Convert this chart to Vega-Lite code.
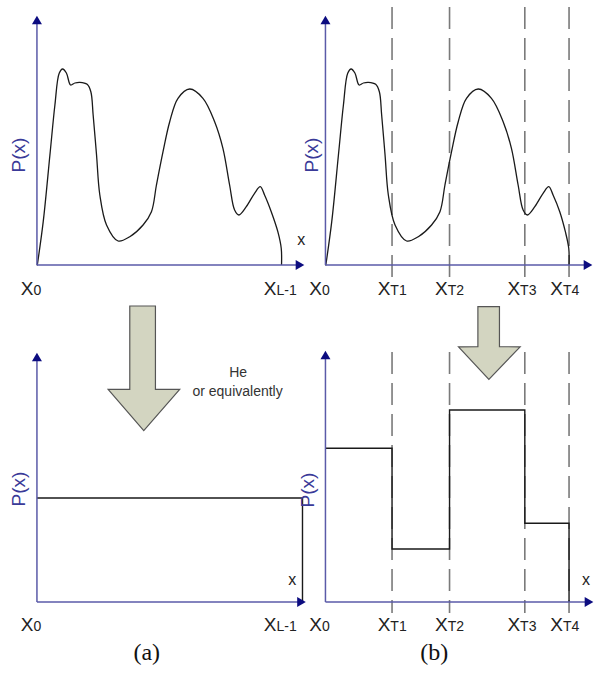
{
  "$schema": "https://vega.github.io/schema/vega-lite/v6.json",
  "width": 594,
  "height": 681,
  "padding": 0,
  "autosize": {"type": "fit", "contains": "padding"},
  "background": "white",
  "config": {"view": {"stroke": null}},
  "datasets": {
    "curve": [
      {"panel": "a", "i": 0, "x": 37.3, "y": 265.5},
      {"panel": "a", "i": 1, "x": 43.3, "y": 221.7},
      {"panel": "a", "i": 2, "x": 50, "y": 155},
      {"panel": "a", "i": 3, "x": 55, "y": 105},
      {"panel": "a", "i": 4, "x": 59.3, "y": 73.3},
      {"panel": "a", "i": 5, "x": 62.7, "y": 69},
      {"panel": "a", "i": 6, "x": 66.5, "y": 73},
      {"panel": "a", "i": 7, "x": 70.7, "y": 85},
      {"panel": "a", "i": 8, "x": 75, "y": 83},
      {"panel": "a", "i": 9, "x": 80, "y": 82.3},
      {"panel": "a", "i": 10, "x": 87.3, "y": 84.3},
      {"panel": "a", "i": 11, "x": 91, "y": 91.7},
      {"panel": "a", "i": 12, "x": 93.3, "y": 115},
      {"panel": "a", "i": 13, "x": 96.7, "y": 155},
      {"panel": "a", "i": 14, "x": 100, "y": 195},
      {"panel": "a", "i": 15, "x": 106.7, "y": 225},
      {"panel": "a", "i": 16, "x": 118.3, "y": 241},
      {"panel": "a", "i": 17, "x": 130, "y": 236.7},
      {"panel": "a", "i": 18, "x": 143.3, "y": 225},
      {"panel": "a", "i": 19, "x": 151.7, "y": 211.7},
      {"panel": "a", "i": 20, "x": 156.7, "y": 185},
      {"panel": "a", "i": 21, "x": 163.3, "y": 151.7},
      {"panel": "a", "i": 22, "x": 170, "y": 121.7},
      {"panel": "a", "i": 23, "x": 178.3, "y": 98.3},
      {"panel": "a", "i": 24, "x": 190, "y": 89},
      {"panel": "a", "i": 25, "x": 203.3, "y": 98.3},
      {"panel": "a", "i": 26, "x": 215, "y": 121.7},
      {"panel": "a", "i": 27, "x": 223.3, "y": 148.3},
      {"panel": "a", "i": 28, "x": 230, "y": 185},
      {"panel": "a", "i": 29, "x": 235, "y": 210},
      {"panel": "a", "i": 30, "x": 239.3, "y": 215},
      {"panel": "a", "i": 31, "x": 246.7, "y": 206.7},
      {"panel": "a", "i": 32, "x": 255, "y": 193.3},
      {"panel": "a", "i": 33, "x": 260.7, "y": 186.7},
      {"panel": "a", "i": 34, "x": 265, "y": 195},
      {"panel": "a", "i": 35, "x": 271.7, "y": 211.7},
      {"panel": "a", "i": 36, "x": 278.3, "y": 231.7},
      {"panel": "a", "i": 37, "x": 281.7, "y": 248.3},
      {"panel": "a", "i": 38, "x": 282, "y": 265},
      {"panel": "b", "i": 0, "x": 326.3, "y": 265.5},
      {"panel": "b", "i": 1, "x": 332.3, "y": 221.7},
      {"panel": "b", "i": 2, "x": 339, "y": 155},
      {"panel": "b", "i": 3, "x": 344, "y": 105},
      {"panel": "b", "i": 4, "x": 348.3, "y": 73.3},
      {"panel": "b", "i": 5, "x": 351.7, "y": 69},
      {"panel": "b", "i": 6, "x": 355.5, "y": 73},
      {"panel": "b", "i": 7, "x": 359.7, "y": 85},
      {"panel": "b", "i": 8, "x": 364, "y": 83},
      {"panel": "b", "i": 9, "x": 369, "y": 82.3},
      {"panel": "b", "i": 10, "x": 376.3, "y": 84.3},
      {"panel": "b", "i": 11, "x": 380, "y": 91.7},
      {"panel": "b", "i": 12, "x": 382.3, "y": 115},
      {"panel": "b", "i": 13, "x": 385.7, "y": 155},
      {"panel": "b", "i": 14, "x": 389, "y": 195},
      {"panel": "b", "i": 15, "x": 395.7, "y": 225},
      {"panel": "b", "i": 16, "x": 407.3, "y": 241},
      {"panel": "b", "i": 17, "x": 419, "y": 236.7},
      {"panel": "b", "i": 18, "x": 432.3, "y": 225},
      {"panel": "b", "i": 19, "x": 440.7, "y": 211.7},
      {"panel": "b", "i": 20, "x": 445.7, "y": 185},
      {"panel": "b", "i": 21, "x": 452.3, "y": 151.7},
      {"panel": "b", "i": 22, "x": 459, "y": 121.7},
      {"panel": "b", "i": 23, "x": 467.3, "y": 98.3},
      {"panel": "b", "i": 24, "x": 479, "y": 89},
      {"panel": "b", "i": 25, "x": 492.3, "y": 98.3},
      {"panel": "b", "i": 26, "x": 504, "y": 121.7},
      {"panel": "b", "i": 27, "x": 512.3, "y": 148.3},
      {"panel": "b", "i": 28, "x": 519, "y": 185},
      {"panel": "b", "i": 29, "x": 524, "y": 210},
      {"panel": "b", "i": 30, "x": 528.3, "y": 215},
      {"panel": "b", "i": 31, "x": 535.7, "y": 206.7},
      {"panel": "b", "i": 32, "x": 544, "y": 193.3},
      {"panel": "b", "i": 33, "x": 549.7, "y": 186.7},
      {"panel": "b", "i": 34, "x": 554, "y": 195},
      {"panel": "b", "i": 35, "x": 560.7, "y": 211.7},
      {"panel": "b", "i": 36, "x": 566.3, "y": 231.7},
      {"panel": "b", "i": 37, "x": 569.7, "y": 248.3},
      {"panel": "b", "i": 38, "x": 570, "y": 265}
    ],
    "steps": [
      {"panel": "a", "i": 0, "x": 37, "y": 498},
      {"panel": "a", "i": 1, "x": 303, "y": 498},
      {"panel": "a", "i": 2, "x": 303, "y": 602},
      {"panel": "b", "i": 0, "x": 326, "y": 448.3},
      {"panel": "b", "i": 1, "x": 392.7, "y": 448.3},
      {"panel": "b", "i": 2, "x": 392.7, "y": 549},
      {"panel": "b", "i": 3, "x": 450.3, "y": 549},
      {"panel": "b", "i": 4, "x": 450.3, "y": 410},
      {"panel": "b", "i": 5, "x": 525.7, "y": 410},
      {"panel": "b", "i": 6, "x": 525.7, "y": 523.3},
      {"panel": "b", "i": 7, "x": 570, "y": 523.3},
      {"panel": "b", "i": 8, "x": 570, "y": 602}
    ],
    "dashes": [
      {"x": 392.7, "y": 7, "y2": 282},
      {"x": 450.3, "y": 7, "y2": 282},
      {"x": 525.7, "y": 7, "y2": 282},
      {"x": 570, "y": 7, "y2": 282},
      {"x": 392.7, "y": 352, "y2": 613},
      {"x": 450.3, "y": 352, "y2": 613},
      {"x": 525.7, "y": 352, "y2": 613},
      {"x": 570, "y": 352, "y2": 613}
    ],
    "axes": [
      {"x": 37, "y": 20, "x2": 37, "y2": 265},
      {"x": 37, "y": 265, "x2": 300, "y2": 265},
      {"x": 326, "y": 20, "x2": 326, "y2": 265},
      {"x": 326, "y": 265, "x2": 589, "y2": 265},
      {"x": 37, "y": 357, "x2": 37, "y2": 602},
      {"x": 37, "y": 602, "x2": 302, "y2": 602},
      {"x": 326, "y": 355, "x2": 326, "y2": 602},
      {"x": 326, "y": 602, "x2": 590, "y2": 602}
    ],
    "heads": [
      {"dir": "up", "x": 37, "y": 20},
      {"dir": "right", "x": 300.5, "y": 265},
      {"dir": "up", "x": 326, "y": 20},
      {"dir": "right", "x": 589, "y": 265},
      {"dir": "up", "x": 37, "y": 357},
      {"dir": "right", "x": 302, "y": 602},
      {"dir": "up", "x": 326, "y": 355},
      {"dir": "right", "x": 590, "y": 602}
    ],
    "arrows": [
      {"arrow": "a", "y": 306, "x": 130, "x2": 155.7},
      {"arrow": "a", "y": 389.3, "x": 130, "x2": 155.7},
      {"arrow": "a", "y": 389.4, "x": 108.3, "x2": 180},
      {"arrow": "a", "y": 430.7, "x": 144, "x2": 144},
      {"arrow": "b", "y": 306.7, "x": 478.7, "x2": 500.3},
      {"arrow": "b", "y": 346.7, "x": 478.7, "x2": 500.3},
      {"arrow": "b", "y": 346.8, "x": 459.3, "x2": 521},
      {"arrow": "b", "y": 379.3, "x": 489.7, "x2": 489.7}
    ],
    "ticklabels": [
      {"x": 33.5, "y": 295, "main": "X", "sub": "0"},
      {"x": 277, "y": 295, "main": "X", "sub": "L-1"},
      {"x": 322.5, "y": 295, "main": "X", "sub": "0"},
      {"x": 391, "y": 295, "main": "X", "sub": "T1"},
      {"x": 448.5, "y": 295, "main": "X", "sub": "T2"},
      {"x": 521, "y": 295, "main": "X", "sub": "T3"},
      {"x": 564, "y": 295, "main": "X", "sub": "T4"},
      {"x": 33.5, "y": 631, "main": "X", "sub": "0"},
      {"x": 277, "y": 631, "main": "X", "sub": "L-1"},
      {"x": 322.5, "y": 631, "main": "X", "sub": "0"},
      {"x": 391, "y": 631, "main": "X", "sub": "T1"},
      {"x": 448.5, "y": 631, "main": "X", "sub": "T2"},
      {"x": 521, "y": 631, "main": "X", "sub": "T3"},
      {"x": 564, "y": 631, "main": "X", "sub": "T4"}
    ],
    "ylabels": [
      {"x": 18.7, "y": 155, "t": "P(x)"},
      {"x": 312.5, "y": 155, "t": "P(x)"},
      {"x": 18.7, "y": 489, "t": "P(x)"},
      {"x": 309, "y": 490, "t": "P(x)"}
    ],
    "xlabels": [
      {"x": 301.7, "y": 240, "t": "x"},
      {"x": 292.7, "y": 580, "t": "x"},
      {"x": 587, "y": 580, "t": "x"}
    ],
    "notes": [
      {"x": 238.5, "y": 377, "t": "He"},
      {"x": 238, "y": 396, "t": "or equivalently"}
    ],
    "captions": [
      {"x": 147, "y": 653, "t": "(a)"},
      {"x": 435, "y": 653, "t": "(b)"}
    ]
  },
  "encoding": {
    "x": {"field": "x", "type": "quantitative", "scale": {"domain": [0, 594], "nice": false, "zero": false}, "axis": null},
    "y": {"field": "y", "type": "quantitative", "scale": {"domain": [0, 681], "nice": false, "zero": false, "reverse": true}, "axis": null}
  },
  "layer": [
    {
      "data": {"name": "dashes"},
      "mark": {"type": "rule", "color": "#7a7a7a", "strokeWidth": 1.6, "strokeDash": [22, 9]},
      "encoding": {"y2": {"field": "y2"}}
    },
    {
      "data": {"name": "curve"},
      "mark": {"type": "line", "color": "#1a1a1a", "strokeWidth": 1.3, "interpolate": "catmull-rom"},
      "encoding": {"detail": {"field": "panel"}, "order": {"field": "i", "type": "quantitative"}}
    },
    {
      "data": {"name": "steps"},
      "mark": {"type": "line", "color": "#1a1a1a", "strokeWidth": 1.4},
      "encoding": {"detail": {"field": "panel"}, "order": {"field": "i", "type": "quantitative"}}
    },
    {
      "data": {"name": "axes"},
      "mark": {"type": "rule", "color": "#5a5aa8", "strokeWidth": 1.5},
      "encoding": {"x2": {"field": "x2"}, "y2": {"field": "y2"}}
    },
    {
      "data": {"name": "heads"},
      "mark": {"type": "point", "filled": true, "size": 100, "opacity": 1, "color": "#0c0c80"},
      "encoding": {"shape": {"field": "dir", "type": "nominal", "scale": {"domain": ["up", "right"], "range": ["triangle-up", "triangle-right"]}, "legend": null}}
    },
    {
      "data": {"name": "arrows"},
      "mark": {"type": "area", "orient": "horizontal", "fill": "#d3d5c1", "stroke": "#555555", "strokeWidth": 1.2, "fillOpacity": 1},
      "encoding": {"x2": {"field": "x2"}, "detail": {"field": "arrow"}}
    },
    {
      "data": {"name": "ticklabels"},
      "mark": {"type": "text", "font": "Liberation Sans", "fontSize": 19, "align": "right", "baseline": "alphabetic", "color": "#222222"},
      "encoding": {"text": {"field": "main"}}
    },
    {
      "data": {"name": "ticklabels"},
      "mark": {"type": "text", "font": "Liberation Sans", "fontSize": 14, "align": "left", "baseline": "alphabetic", "color": "#222222"},
      "encoding": {"text": {"field": "sub"}}
    },
    {
      "data": {"name": "ylabels"},
      "mark": {"type": "text", "font": "Liberation Sans", "fontSize": 19, "angle": 270, "align": "center", "baseline": "middle", "color": "#3a3a98"},
      "encoding": {"text": {"field": "t"}}
    },
    {
      "data": {"name": "xlabels"},
      "mark": {"type": "text", "font": "Liberation Sans", "fontSize": 16, "align": "center", "baseline": "middle", "color": "#222222"},
      "encoding": {"text": {"field": "t"}}
    },
    {
      "data": {"name": "notes"},
      "mark": {"type": "text", "font": "Liberation Sans", "fontSize": 14, "align": "center", "baseline": "alphabetic", "color": "#333333"},
      "encoding": {"text": {"field": "t"}}
    },
    {
      "data": {"name": "captions"},
      "mark": {"type": "text", "font": "Liberation Serif", "fontSize": 24, "align": "center", "baseline": "middle", "color": "#111111"},
      "encoding": {"text": {"field": "t"}}
    }
  ]
}
